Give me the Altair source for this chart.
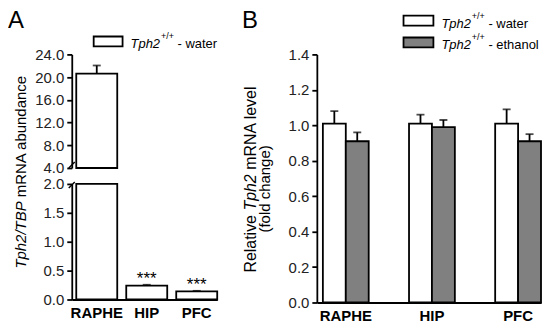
import altair as alt
import pandas as pd

# ---------------- data ----------------
regions = ["RAPHE", "HIP", "PFC"]
abundance = [20.6, 0.24, 0.14]
abundance_err = [1.45, 0.015, 0.01]
stars = ["", "***", "***"]

groups = ["water", "ethanol"]
water = [1.01, 1.01, 1.01]
water_err = [0.07, 0.05, 0.08]
ethanol = [0.91, 0.99, 0.91]
ethanol_err = [0.05, 0.04, 0.04]

ticks_a_top = [4, 8, 12, 16, 20, 24]
ticks_a_bot = [0, 0.5, 1, 1.5, 2]
ticks_b = [0, 0.2, 0.4, 0.6, 0.8, 1.0, 1.2, 1.4]

panel_letters = ["A", "B"]
gene = ["Tph2"]
genotype = ["+/+"]
legend_a = ["- water"]
legend_b = ["- water", "- ethanol"]
title_a = ["Tph2/TBP", "mRNA abundance"]
title_b = ["Relative", "Tph2", "mRNA level", "(fold change)"]

FONT = "Liberation Sans"
GRAY = "#808080"
SW = 1.8

dfa = pd.DataFrame({"region": regions, "value": abundance, "err": abundance_err, "stars": stars})
dfa["upper"] = dfa["value"] + dfa["err"]

dfb = pd.DataFrame({
    "region": regions * 2,
    "group": [groups[0]] * 3 + [groups[1]] * 3,
    "value": water + ethanol,
    "err": water_err + ethanol_err,
})
dfb["upper"] = dfb["value"] + dfb["err"]


def one(t):
    return pd.DataFrame({"t": [t]})


def txt(t, x, y, size=15, style="normal", weight="normal", align="left", angle=0):
    return alt.Chart(one(t)).mark_text(
        font=FONT, fontSize=size, fontStyle=style, fontWeight=weight,
        align=align, baseline="alphabetic", angle=angle, color="black",
    ).encode(text="t:N", x=alt.value(x), y=alt.value(y))


def box(x1, x2, y1, y2, fill):
    return alt.Chart(one("")).mark_rect(fill=fill, stroke="black", strokeWidth=SW).encode(
        x=alt.value(x1), x2=alt.value(x2), y=alt.value(y1), y2=alt.value(y2))


def slash(x1, x2, y1, y2):
    return alt.Chart(one("")).mark_rule(color="black", strokeWidth=1.4).encode(
        x=alt.value(x1), x2=alt.value(x2), y=alt.value(y1), y2=alt.value(y2))


def yaxis(values):
    return alt.Axis(values=values, format=".1f", title=None, tickCount=len(values) + 2,
                    labelOverlap=False)


# ---------------- panel A ----------------
WA = 146
HA_TOP = 114
HA_BOT = 116

xa_scale = alt.Scale(domain=regions, paddingInner=0.18, paddingOuter=0.045, align=1)
xa_none = alt.X("region:N", sort=regions, scale=xa_scale, axis=None)
xa_axis = alt.X("region:N", sort=regions, scale=xa_scale,
                axis=alt.Axis(title=None, labelAngle=0, ticks=False, tickSize=0,
                              labelFontWeight="bold", labelFontSize=15, labelPadding=6,
                              labelColor="black"))

ya_top = alt.Scale(domain=[4, 24], clamp=True, nice=False, zero=False)
ya_bot = alt.Scale(domain=[0, 2], clamp=True, nice=False)

top_base = alt.Chart(dfa).transform_filter("datum.value > 4")
a_top = alt.layer(
    top_base.mark_bar(fill="white", stroke="black", strokeWidth=SW).encode(
        x=xa_none,
        y=alt.Y("value:Q", scale=ya_top, axis=yaxis(ticks_a_top)),
        y2=alt.datum(4),
    ),
    top_base.mark_rule(color="black", strokeWidth=SW).encode(
        x=xa_none, y=alt.Y("value:Q", scale=ya_top), y2="upper:Q"),
    top_base.mark_tick(color="black", thickness=SW, size=8).encode(
        x=xa_none, y=alt.Y("upper:Q", scale=ya_top)),
    box(22, 51, -18, -8, "white"),
    txt(gene[0], 59, -6, size=13, style="italic"),
    txt(genotype[0], 89.6, -15, size=9),
    txt(legend_a[0], 106.2, -6, size=13),
    txt(panel_letters[0], -64, -27, size=24),
    slash(-3, 3, 114, 108),
).properties(width=WA, height=HA_TOP)

bot_err = alt.Chart(dfa).transform_filter("datum.value < 2")
bot_stars = alt.Chart(dfa).transform_filter("datum.stars != ''")
a_bot = alt.layer(
    alt.Chart(dfa).mark_bar(fill="white", stroke="black", strokeWidth=SW).encode(
        x=xa_axis,
        y=alt.Y("value:Q", scale=ya_bot, axis=yaxis(ticks_a_bot)),
        y2=alt.datum(0),
    ),
    bot_err.mark_rule(color="black", strokeWidth=SW).encode(
        x=xa_axis, y=alt.Y("value:Q", scale=ya_bot), y2="upper:Q"),
    bot_err.mark_tick(color="black", thickness=SW, size=8).encode(
        x=xa_axis, y=alt.Y("upper:Q", scale=ya_bot)),
    bot_stars.mark_text(font=FONT, fontSize=17, baseline="alphabetic", dy=-1, color="black").encode(
        x=xa_axis, y=alt.Y("upper:Q", scale=ya_bot), text="stars:N"),
    txt(title_a[0], -46, 17.5, style="italic", align="right", angle=270),
    txt(title_a[1], -46, 13.3, align="left", angle=270),
    slash(-3, 3, 4, -2),
).properties(width=WA, height=HA_BOT)

panel_a = alt.vconcat(a_top, a_bot, spacing=16, bounds="flush")

# ---------------- panel B ----------------
WB = 225
HB = 249

xb_scale = alt.Scale(domain=regions, paddingInner=0.468, paddingOuter=0.035, align=1)
xb = alt.X("region:N", sort=regions, scale=xb_scale,
           axis=alt.Axis(title=None, labelAngle=0, ticks=False, tickSize=0,
                         labelFontWeight="bold", labelFontSize=15, labelPadding=6,
                         labelColor="black"))
xo = alt.XOffset("group:N", sort=groups, scale=alt.Scale(paddingInner=0, paddingOuter=0))
yb_scale = alt.Scale(domain=[0, 1.4], nice=False)

TS = 16  # first title line size
j1 = 219 - 3.612 * TS
b_panel = alt.layer(
    alt.Chart(dfb).mark_bar(stroke="black", strokeWidth=SW).encode(
        x=xb, xOffset=xo,
        y=alt.Y("value:Q", scale=yb_scale, axis=yaxis(ticks_b)),
        fill=alt.Fill("group:N", sort=groups,
                      scale=alt.Scale(domain=groups, range=["white", GRAY]), legend=None),
    ),
    alt.Chart(dfb).mark_rule(color="black", strokeWidth=SW).encode(
        x=xb, xOffset=xo, y=alt.Y("value:Q", scale=yb_scale), y2="upper:Q"),
    alt.Chart(dfb).mark_tick(color="black", thickness=SW, size=8).encode(
        x=xb, xOffset=xo, y=alt.Y("upper:Q", scale=yb_scale)),
    box(87, 117, -39, -29, "white"),
    box(87, 117, -17, -7, GRAY),
    txt(gene[0], 125, -27, size=13, style="italic"),
    txt(genotype[0], 155.6, -36, size=9),
    txt(legend_b[0], 172.2, -27, size=13),
    txt(gene[0], 125, -5, size=13, style="italic"),
    txt(genotype[0], 155.6, -14, size=9),
    txt(legend_b[1], 172.2, -5, size=13),
    txt(panel_letters[1], -75, -27, size=24),
    txt(title_b[0], -61, j1, size=TS, align="right", angle=270),
    txt(title_b[1], -61, j1 - 0.278 * TS, size=TS, style="italic", align="left", angle=270),
    txt(title_b[2], -61, j1 - (0.278 * 2 + 2.279) * TS, size=TS, align="left", angle=270),
    txt(title_b[3], -47, 135, align="center", angle=270),
).properties(width=WB, height=HB)

chart = alt.hconcat(panel_a, b_panel, spacing=24).properties(
    padding=0
).configure_axis(
    domainColor="black", domainWidth=SW, tickColor="black", tickWidth=SW,
    tickSize=5, labelFont=FONT, labelFontSize=15, labelColor="#222222",
    labelPadding=3, grid=False, labelOverlap=False,
).configure_view(stroke=None)

chart.save("out.html", embed_options={"renderer": "svg", "actions": False})
